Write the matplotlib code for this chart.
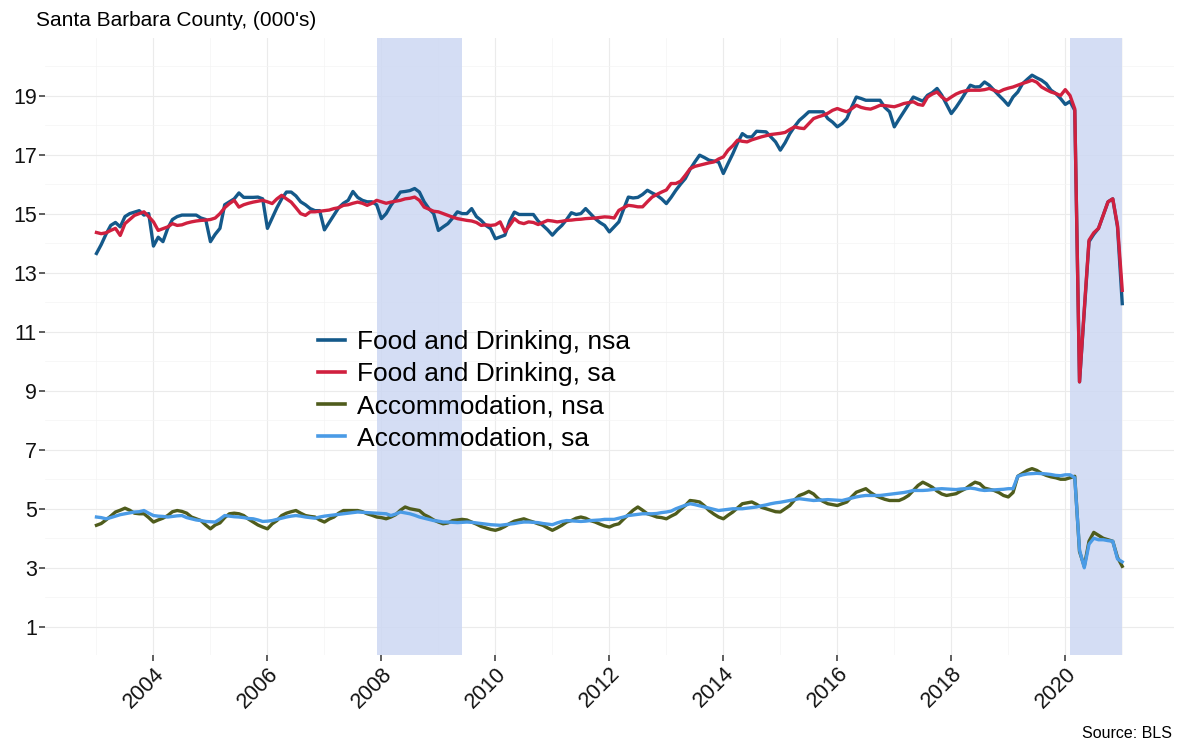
import numpy as np
import pandas as pd
import matplotlib
matplotlib.use("Agg")
import matplotlib.pyplot as plt
from matplotlib.ticker import MultipleLocator

# monthly, Jan 2003 .. Jan 2021 (thousands of jobs)
months = pd.date_range("2003-01-01", "2021-01-01", freq="MS")

food_nsa = [
    13.65, 13.95, 14.30, 14.60, 14.70, 14.55, 14.90, 15.00, 15.05, 15.10, 14.95, 15.00,  # 2003
    13.90, 14.20, 14.05, 14.50, 14.80, 14.90, 14.95, 14.95, 14.95, 14.95, 14.85, 14.80,  # 2004
    14.05, 14.30, 14.50, 15.30, 15.40, 15.50, 15.70, 15.55, 15.55, 15.55, 15.56, 15.50,  # 2005
    14.50, 14.85, 15.20, 15.50, 15.73, 15.73, 15.60, 15.40, 15.30, 15.17, 15.10, 15.10,  # 2006
    14.45, 14.70, 14.95, 15.20, 15.35, 15.45, 15.75, 15.55, 15.45, 15.40, 15.40, 15.30,  # 2007
    14.83, 15.00, 15.28, 15.50, 15.73, 15.75, 15.78, 15.85, 15.73, 15.40, 15.17, 15.00,  # 2008
    14.43, 14.55, 14.66, 14.85, 15.06, 15.00, 15.00, 15.17, 14.90, 14.77, 14.60, 14.49,  # 2009
    14.15, 14.21, 14.27, 14.75, 15.05, 14.97, 14.97, 14.97, 14.97, 14.75, 14.60, 14.45,  # 2010
    14.27, 14.45, 14.60, 14.80, 15.03, 14.97, 15.00, 15.17, 15.00, 14.83, 14.70, 14.60,  # 2011
    14.38, 14.55, 14.72, 15.15, 15.56, 15.53, 15.55, 15.65, 15.79, 15.70, 15.62, 15.50,  # 2012
    15.34, 15.55, 15.79, 16.00, 16.19, 16.50, 16.75, 16.98, 16.90, 16.81, 16.78, 16.75,  # 2013
    16.36, 16.70, 17.03, 17.40, 17.71, 17.60, 17.60, 17.79, 17.78, 17.77, 17.60, 17.43,  # 2014
    17.15, 17.40, 17.71, 17.95, 18.16, 18.30, 18.45, 18.45, 18.45, 18.45, 18.22, 18.10,  # 2015
    17.94, 18.05, 18.22, 18.60, 18.95, 18.90, 18.84, 18.84, 18.84, 18.84, 18.60, 18.45,  # 2016
    17.94, 18.20, 18.45, 18.70, 18.95, 18.88, 18.81, 19.01, 19.10, 19.24, 19.01, 18.70,  # 2017
    18.39, 18.60, 18.84, 19.10, 19.35, 19.29, 19.30, 19.46, 19.35, 19.18, 19.01, 18.85,  # 2018
    18.67, 18.95, 19.12, 19.40, 19.55, 19.69, 19.60, 19.52, 19.40, 19.18, 19.07, 18.90,  # 2019
    18.70, 18.80, 18.50, 9.30, 11.70, 14.05, 14.30, 14.50, 14.95, 15.40, 15.50, 14.55,   # 2020
    11.95,                                                                               # 2021
]

food_sa = [
    14.36, 14.32, 14.35, 14.43, 14.50, 14.26, 14.66, 14.80, 14.94, 15.00, 15.06, 14.90,  # 2003
    14.72, 14.43, 14.49, 14.55, 14.66, 14.60, 14.62, 14.68, 14.72, 14.75, 14.77, 14.78,  # 2004
    14.80, 14.85, 15.00, 15.20, 15.34, 15.45, 15.22, 15.30, 15.35, 15.39, 15.42, 15.45,  # 2005
    15.40, 15.34, 15.50, 15.62, 15.50, 15.39, 15.20, 15.00, 14.94, 15.06, 15.06, 15.08,  # 2006
    15.10, 15.12, 15.17, 15.20, 15.28, 15.30, 15.35, 15.39, 15.35, 15.28, 15.35, 15.45,  # 2007
    15.40, 15.35, 15.39, 15.42, 15.45, 15.50, 15.52, 15.56, 15.45, 15.22, 15.15, 15.08,  # 2008
    15.06, 15.00, 14.94, 14.88, 14.83, 14.80, 14.77, 14.75, 14.70, 14.60, 14.62, 14.60,  # 2009
    14.62, 14.72, 14.38, 14.60, 14.83, 14.70, 14.66, 14.72, 14.70, 14.63, 14.70, 14.77,  # 2010
    14.75, 14.72, 14.74, 14.77, 14.78, 14.80, 14.81, 14.83, 14.84, 14.85, 14.87, 14.89,  # 2011
    14.88, 14.85, 15.11, 15.20, 15.28, 15.26, 15.23, 15.23, 15.40, 15.56, 15.65, 15.73,  # 2012
    15.80, 16.02, 16.02, 16.10, 16.30, 16.52, 16.60, 16.64, 16.68, 16.72, 16.75, 16.85,  # 2013
    16.92, 17.15, 17.30, 17.49, 17.45, 17.43, 17.50, 17.55, 17.60, 17.64, 17.68, 17.70,  # 2014
    17.72, 17.75, 17.85, 17.94, 17.90, 17.88, 18.05, 18.22, 18.28, 18.33, 18.40, 18.50,  # 2015
    18.56, 18.50, 18.45, 18.55, 18.67, 18.60, 18.56, 18.54, 18.60, 18.67, 18.66, 18.64,  # 2016
    18.62, 18.67, 18.73, 18.76, 18.79, 18.70, 18.67, 18.95, 19.05, 19.12, 18.95, 18.84,  # 2017
    18.95, 19.05, 19.12, 19.16, 19.18, 19.18, 19.18, 19.20, 19.24, 19.18, 19.12, 19.20,  # 2018
    19.25, 19.29, 19.35, 19.41, 19.46, 19.52, 19.45, 19.29, 19.20, 19.12, 19.07, 19.00,  # 2019
    19.20, 19.00, 18.55, 9.30, 11.75, 14.10, 14.35, 14.50, 14.95, 15.40, 15.50, 14.60,   # 2020
    12.40,                                                                               # 2021
]

accom_nsa = [
    4.44, 4.50, 4.62, 4.75, 4.89, 4.95, 5.02, 4.95, 4.85, 4.83, 4.83, 4.70,  # 2003
    4.55, 4.62, 4.68, 4.77, 4.90, 4.94, 4.91, 4.85, 4.72, 4.66, 4.60, 4.45,  # 2004
    4.32, 4.45, 4.52, 4.70, 4.83, 4.85, 4.83, 4.77, 4.65, 4.55, 4.45, 4.38,  # 2005
    4.32, 4.49, 4.60, 4.77, 4.85, 4.90, 4.94, 4.85, 4.77, 4.74, 4.72, 4.62,  # 2006
    4.55, 4.65, 4.72, 4.85, 4.94, 4.94, 4.94, 4.94, 4.90, 4.83, 4.78, 4.72,  # 2007
    4.70, 4.66, 4.72, 4.80, 4.95, 5.06, 5.00, 4.97, 4.94, 4.80, 4.72, 4.62,  # 2008
    4.55, 4.49, 4.52, 4.60, 4.62, 4.64, 4.62, 4.55, 4.48, 4.40, 4.35, 4.30,  # 2009
    4.27, 4.32, 4.40, 4.50, 4.58, 4.62, 4.66, 4.60, 4.55, 4.49, 4.44, 4.35,  # 2010
    4.27, 4.35, 4.44, 4.55, 4.60, 4.68, 4.72, 4.68, 4.60, 4.55, 4.48, 4.42,  # 2011
    4.38, 4.45, 4.49, 4.65, 4.80, 4.95, 5.06, 4.95, 4.83, 4.78, 4.72, 4.70,  # 2012
    4.66, 4.75, 4.83, 4.98, 5.11, 5.28, 5.26, 5.23, 5.10, 4.94, 4.82, 4.72,  # 2013
    4.66, 4.78, 4.89, 5.03, 5.17, 5.20, 5.23, 5.15, 5.05, 5.00, 4.95, 4.90,  # 2014
    4.89, 5.00, 5.11, 5.30, 5.45, 5.51, 5.59, 5.50, 5.34, 5.25, 5.17, 5.14,  # 2015
    5.11, 5.17, 5.23, 5.40, 5.56, 5.62, 5.68, 5.55, 5.45, 5.38, 5.32, 5.28,  # 2016
    5.28, 5.28, 5.35, 5.45, 5.62, 5.79, 5.90, 5.82, 5.73, 5.60, 5.50, 5.45,  # 2017
    5.48, 5.51, 5.60, 5.68, 5.80, 5.90, 5.85, 5.70, 5.66, 5.62, 5.55, 5.45,  # 2018
    5.40, 5.55, 6.10, 6.20, 6.30, 6.36, 6.30, 6.20, 6.13, 6.08, 6.05, 6.00,  # 2019
    6.00, 6.05, 6.10, 3.55, 3.05, 3.90, 4.20, 4.10, 4.00, 3.95, 3.90, 3.35,  # 2020
    3.05,                                                                    # 2021
]

accom_sa = [
    4.72, 4.70, 4.66, 4.70, 4.75, 4.80, 4.83, 4.86, 4.89, 4.90, 4.94, 4.85,  # 2003
    4.77, 4.75, 4.74, 4.72, 4.74, 4.76, 4.77, 4.70, 4.66, 4.62, 4.60, 4.57,  # 2004
    4.56, 4.55, 4.65, 4.77, 4.75, 4.73, 4.72, 4.70, 4.67, 4.66, 4.62, 4.57,  # 2005
    4.58, 4.60, 4.64, 4.68, 4.72, 4.75, 4.77, 4.75, 4.72, 4.70, 4.68, 4.72,  # 2006
    4.75, 4.77, 4.79, 4.81, 4.83, 4.85, 4.87, 4.89, 4.88, 4.87, 4.86, 4.85,  # 2007
    4.84, 4.83, 4.77, 4.82, 4.89, 4.86, 4.83, 4.78, 4.72, 4.68, 4.64, 4.60,  # 2008
    4.58, 4.55, 4.55, 4.54, 4.53, 4.54, 4.55, 4.54, 4.52, 4.50, 4.48, 4.46,  # 2009
    4.45, 4.44, 4.46, 4.48, 4.50, 4.53, 4.55, 4.55, 4.54, 4.53, 4.50, 4.48,  # 2010
    4.46, 4.52, 4.57, 4.60, 4.59, 4.58, 4.57, 4.58, 4.60, 4.61, 4.62, 4.64,  # 2011
    4.64, 4.64, 4.68, 4.72, 4.77, 4.79, 4.81, 4.83, 4.83, 4.83, 4.84, 4.87,  # 2012
    4.89, 4.92, 5.00, 5.06, 5.12, 5.17, 5.14, 5.10, 5.06, 5.02, 4.98, 4.94,  # 2013
    4.96, 4.98, 5.00, 5.00, 5.00, 5.02, 5.04, 5.06, 5.10, 5.13, 5.17, 5.20,  # 2014
    5.22, 5.25, 5.28, 5.31, 5.34, 5.32, 5.30, 5.28, 5.29, 5.30, 5.31, 5.30,  # 2015
    5.29, 5.28, 5.32, 5.36, 5.40, 5.43, 5.45, 5.45, 5.45, 5.45, 5.47, 5.49,  # 2016
    5.51, 5.53, 5.55, 5.58, 5.62, 5.62, 5.62, 5.63, 5.65, 5.67, 5.68, 5.67,  # 2017
    5.66, 5.65, 5.67, 5.68, 5.70, 5.68, 5.64, 5.62, 5.63, 5.64, 5.65, 5.66,  # 2018
    5.68, 5.68, 6.10, 6.15, 6.18, 6.19, 6.20, 6.19, 6.18, 6.16, 6.13, 6.12,  # 2019
    6.15, 6.15, 6.05, 3.60, 3.00, 3.80, 4.00, 3.95, 3.95, 3.92, 3.90, 3.30,  # 2020
    3.20,                                                                    # 2021
]

# recession shading (start, end) as dates
recessions = [("2007-12-01", "2009-06-01"), ("2020-02-01", "2021-01-01")]


def dec_year(d):
    d = pd.DatetimeIndex(d)
    return d.year + (d.month - 1) / 12.0


plt.rcParams["font.family"] = ["Liberation Sans", "DejaVu Sans"]

x = dec_year(months)

fig = plt.figure(figsize=(11.89, 7.45), dpi=100)
ax = fig.add_axes([0.038, 0.121, 0.949, 0.828])

for start, end in recessions:
    s, e = dec_year([start, end])
    ax.axvspan(s, e, color="#cdd8f3", alpha=0.85, lw=0, zorder=1)

ax.plot(x, food_nsa, color="#14598a", lw=2.4, label="Food and Drinking, nsa", zorder=3)
ax.plot(x, food_sa, color="#d0203f", lw=2.4, label="Food and Drinking, sa", zorder=4)
ax.plot(x, accom_nsa, color="#4f5c1c", lw=2.4, label="Accommodation, nsa", zorder=3)
ax.plot(x, accom_sa, color="#4a9be6", lw=2.4, label="Accommodation, sa", zorder=4)

span = x[-1] - x[0]
ax.set_xlim(x[0] - 0.05 * span, x[-1] + 0.05 * span)
ax.set_ylim(0.05, 20.95)

ax.set_yticks(np.arange(1, 20, 2))
ax.yaxis.set_minor_locator(MultipleLocator(2))
ax.set_xticks(np.arange(2004, 2021, 2))
ax.set_xticklabels([str(v) for v in range(2004, 2021, 2)])
ax.xaxis.set_minor_locator(MultipleLocator(1))

ax.grid(which="major", color="#ebebeb", lw=0.8, zorder=0)
ax.grid(which="minor", color="#f4f4f4", lw=0.5, zorder=0)
ax.set_axisbelow(True)

for sp in ax.spines.values():
    sp.set_visible(False)

ax.tick_params(axis="both", which="major", length=4, width=1.1, color="#333333",
               labelsize=15.5, labelcolor="#111111", pad=2)
ax.tick_params(axis="both", which="minor", length=0)
for lab in ax.get_xticklabels():
    lab.set_rotation(45)
    lab.set_ha("right")
    lab.set_rotation_mode("anchor")

leg = ax.legend(loc="upper left", bbox_to_anchor=(0.232, 0.543), frameon=False,
                fontsize=19, handlelength=1.05, handletextpad=0.45,
                labelspacing=0.3, borderaxespad=0)
for line in leg.get_lines():
    line.set_linewidth(2.6)

fig.text(0.03, 0.973, "Santa Barbara County, (000's)", fontsize=15, ha="left", va="center")
fig.text(0.986, 0.016, "Source: BLS", fontsize=11.5, ha="right", va="center")

fig.savefig("out.png", dpi=100)
